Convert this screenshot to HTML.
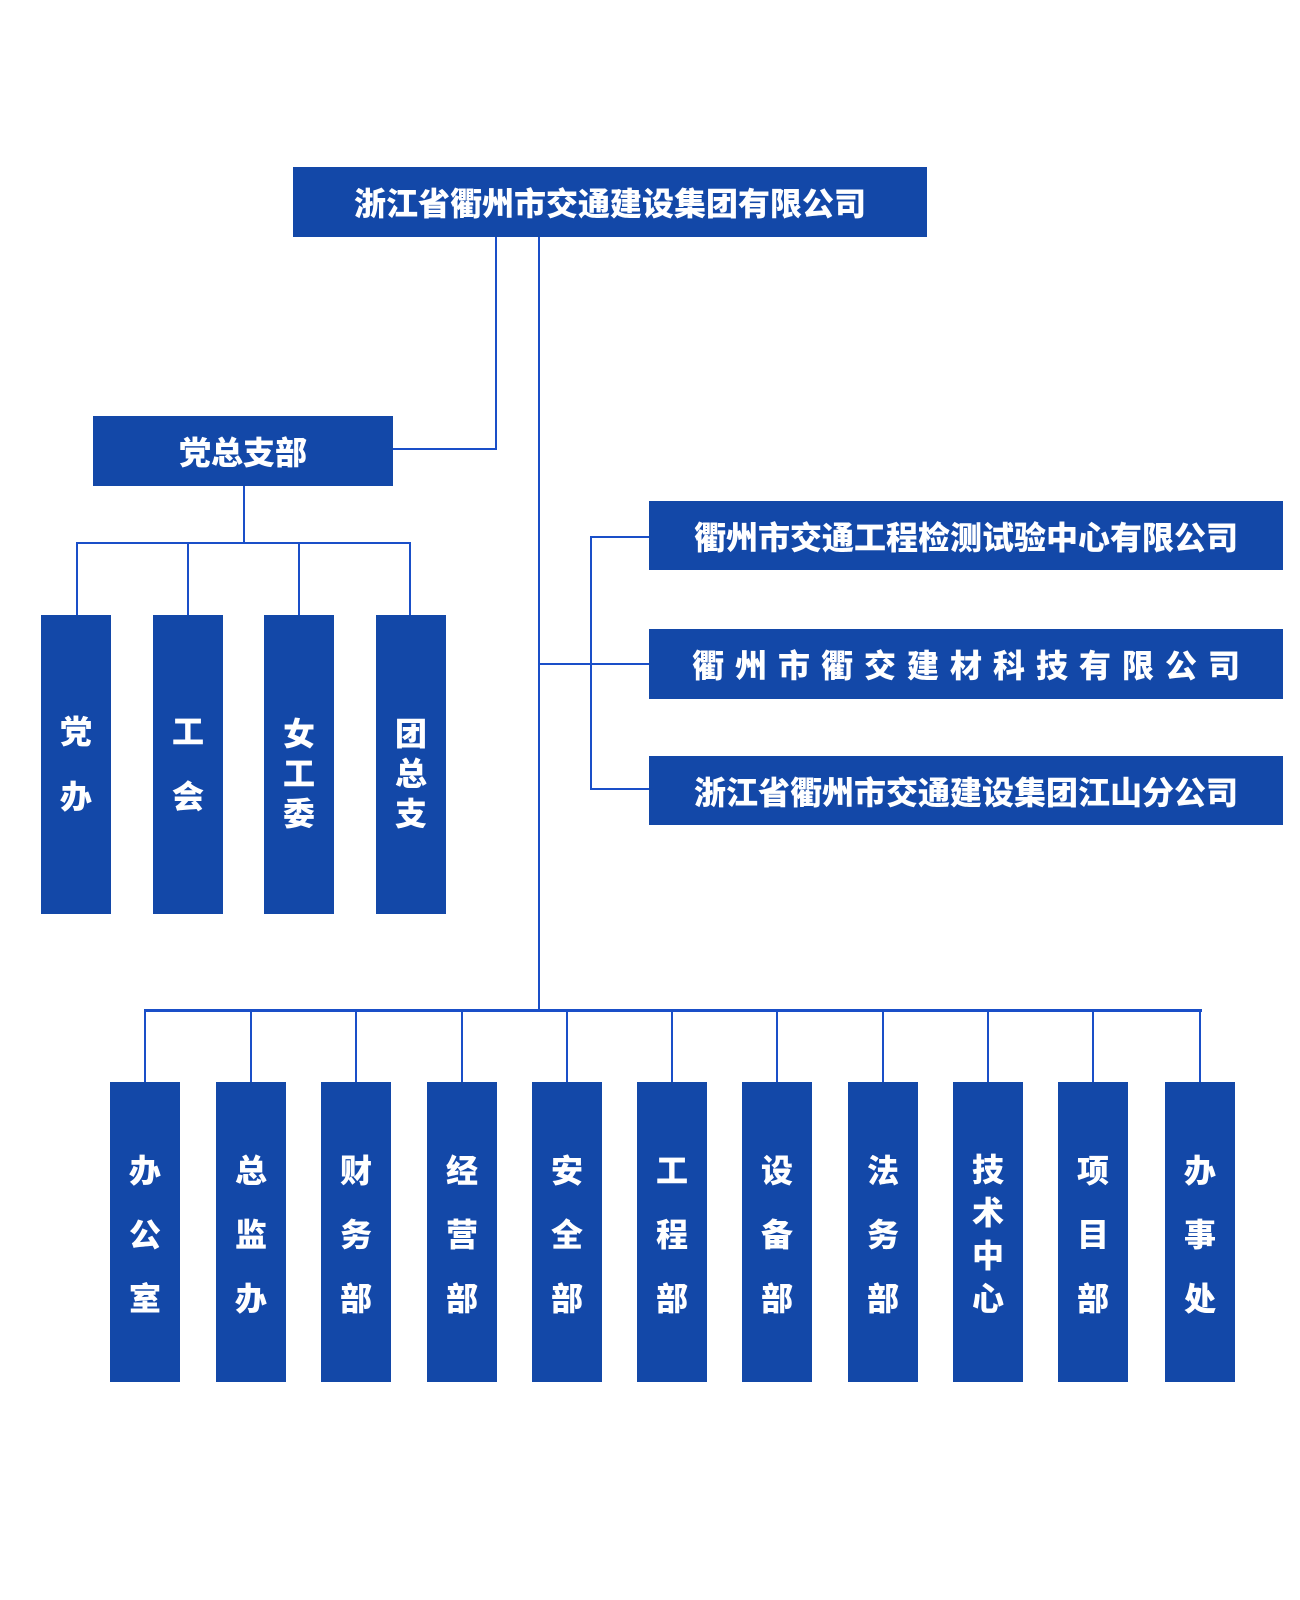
<!DOCTYPE html>
<html><head><meta charset="utf-8"><style>
body{margin:0;width:1300px;height:1600px;background:#fff;position:relative;overflow:hidden;font-family:"Liberation Sans","Noto Sans CJK SC",sans-serif;}
.b{position:absolute;background:#1348a8;color:#fff;font-weight:900;display:flex;align-items:center;justify-content:center;box-sizing:border-box;}
.h{font-size:32px;}
.v{flex-direction:column;font-size:32px;}
.l{position:absolute;background:#1a4fc8;}
</style></head><body>
<div class="b h" style="left:293px;top:167px;width:634px;height:70px;">浙江省衢州市交通建设集团有限公司</div>
<div class="l" style="left:495px;top:237px;width:2px;height:213px;"></div>
<div class="l" style="left:393px;top:448px;width:104px;height:2px;"></div>
<div class="l" style="left:538px;top:237px;width:2px;height:774px;"></div>

<div class="b h" style="left:93px;top:416px;width:300px;height:70px;">党总支部</div>
<div class="l" style="left:243px;top:486px;width:2px;height:57px;"></div>
<div class="l" style="left:76px;top:542px;width:335px;height:2px;"></div>
<div class="l" style="left:76px;top:542px;width:2px;height:73px;"></div>
<div class="l" style="left:187px;top:542px;width:2px;height:73px;"></div>
<div class="l" style="left:298px;top:542px;width:2px;height:73px;"></div>
<div class="l" style="left:409px;top:542px;width:2px;height:73px;"></div>
<div class="b v" style="left:41px;top:615px;width:70px;height:299px;line-height:65px;"><div>党</div><div>办</div></div>
<div class="b v" style="left:153px;top:615px;width:70px;height:299px;line-height:65px;"><div>工</div><div>会</div></div>
<div class="b v" style="left:264px;top:615px;width:70px;height:299px;line-height:40px;padding-top:18px;"><div>女</div><div>工</div><div>委</div></div>
<div class="b v" style="left:376px;top:615px;width:70px;height:299px;line-height:40px;padding-top:18px;"><div>团</div><div>总</div><div>支</div></div>

<div class="l" style="left:539px;top:663px;width:52px;height:2px;"></div>
<div class="l" style="left:590px;top:536px;width:2px;height:254px;"></div>
<div class="l" style="left:590px;top:536px;width:59px;height:2px;"></div>
<div class="l" style="left:590px;top:663px;width:59px;height:2px;"></div>
<div class="l" style="left:590px;top:788px;width:59px;height:2px;"></div>
<div class="b h" style="left:649px;top:501px;width:634px;height:69px;">衢州市交通工程检测试验中心有限公司</div>
<div class="b h" style="left:649px;top:629px;width:634px;height:70px;letter-spacing:11px;text-indent:11px;">衢州市衢交建材科技有限公司</div>
<div class="b h" style="left:649px;top:756px;width:634px;height:69px;">浙江省衢州市交通建设集团江山分公司</div>

<div class="l" style="left:144px;top:1009px;width:1058px;height:3px;"></div>
<div id="bot"></div>
<script>
var names=["办公室","总监办","财务部","经营部","安全部","工程部","设备部","法务部","技术中心","项目部","办事处"];
var cx=[145,251,356,462,567,672,777,883,988,1093,1200];
var h="";
for(var i=0;i<11;i++){
 h+='<div class="l" style="left:'+(cx[i]-1)+'px;top:1010px;width:2px;height:72px;"></div>';
 var lh=names[i].length==4?43:64;
 h+='<div class="b v" style="left:'+(cx[i]-35)+'px;top:1082px;width:70px;height:300px;line-height:'+lh+'px;padding-top:6px;">';
 for(var j=0;j<names[i].length;j++)h+='<div>'+names[i][j]+'</div>';
 h+='</div>';
}
document.getElementById("bot").innerHTML=h;
</script>
</body></html>
